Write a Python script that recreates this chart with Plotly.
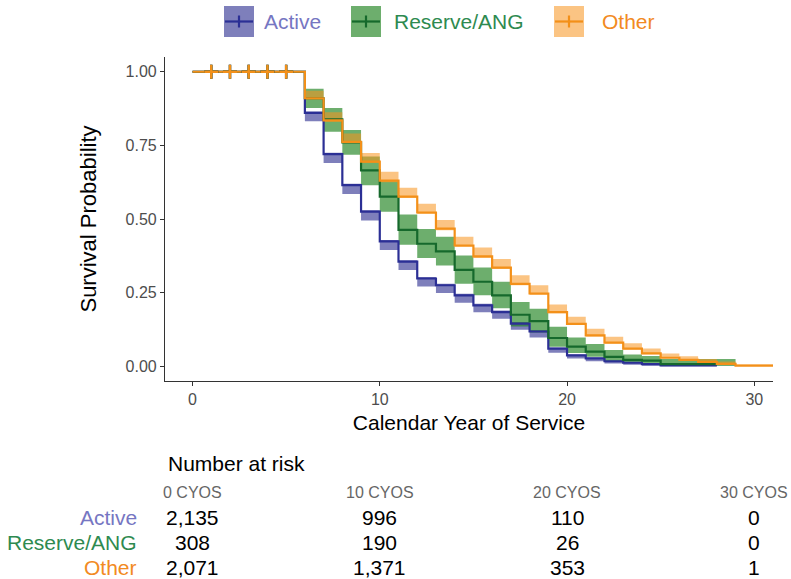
import plotly.graph_objects as go

W, H = 791, 579

# ---------------- data ----------------
groups = ["Active", "Reserve/ANG", "Other"]

time_active = [0, 6, 7, 8, 9, 10, 11, 12, 13, 14, 15, 16, 17, 18, 19, 20, 21, 22, 23, 24, 25, 28]
surv_active = [1.000, 0.860, 0.720, 0.615, 0.525, 0.424, 0.355, 0.298, 0.275, 0.241, 0.207, 0.184,
               0.145, 0.118, 0.060, 0.037, 0.027, 0.017, 0.012, 0.007, 0.003, 0.003]
lower_active = [1.000, 0.832, 0.690, 0.585, 0.495, 0.395, 0.327, 0.271, 0.249, 0.216, 0.183, 0.161,
                0.124, 0.098, 0.046, 0.026, 0.017, 0.009, 0.005, 0.002, 0.000, 0.000]
upper_active = [1.000, 0.865, 0.725, 0.620, 0.530, 0.429, 0.360, 0.303, 0.280, 0.246, 0.212, 0.189,
                0.150, 0.123, 0.064, 0.040, 0.030, 0.020, 0.015, 0.009, 0.005, 0.005]

time_reserve = [0, 6, 7, 8, 9, 10, 11, 12, 13, 14, 15, 16, 17, 18, 19, 20, 21, 22, 23, 24, 25, 29]
surv_reserve = [1.000, 0.910, 0.838, 0.760, 0.665, 0.576, 0.463, 0.416, 0.390, 0.327, 0.287, 0.241,
                0.175, 0.153, 0.096, 0.067, 0.050, 0.032, 0.022, 0.019, 0.007, 0.007]
lower_reserve = [1.000, 0.877, 0.796, 0.718, 0.615, 0.525, 0.413, 0.368, 0.342, 0.280, 0.241, 0.197,
                 0.135, 0.115, 0.066, 0.045, 0.032, 0.018, 0.011, 0.009, 0.002, 0.002]
upper_reserve = [1.000, 0.942, 0.877, 0.802, 0.712, 0.628, 0.515, 0.466, 0.440, 0.376, 0.335, 0.287,
                 0.218, 0.195, 0.134, 0.098, 0.076, 0.055, 0.040, 0.035, 0.025, 0.025]

time_other = [0, 6, 7, 8, 9, 10, 11, 12, 13, 14, 15, 16, 17, 18, 19, 20, 21, 22, 23, 24, 25, 26, 27, 28, 29, 31]
surv_other = [1.000, 0.910, 0.835, 0.762, 0.695, 0.630, 0.576, 0.522, 0.467, 0.410, 0.373, 0.335, 0.280,
              0.247, 0.184, 0.144, 0.105, 0.080, 0.060, 0.044, 0.029, 0.022, 0.015, 0.008, 0.002, 0.002]
lower_other = [1.000, 0.905, 0.830, 0.757, 0.690, 0.625, 0.571, 0.517, 0.462, 0.405, 0.368, 0.330, 0.275,
               0.242, 0.180, 0.140, 0.101, 0.077, 0.057, 0.041, 0.027, 0.020, 0.013, 0.006, 0.001, 0.001]
upper_other = [1.000, 0.935, 0.862, 0.790, 0.724, 0.660, 0.606, 0.552, 0.497, 0.440, 0.403, 0.364, 0.309,
               0.275, 0.210, 0.168, 0.127, 0.100, 0.078, 0.060, 0.043, 0.034, 0.025, 0.016, 0.006, 0.006]

censor_times = [1, 2, 3, 4, 5]
censor_surv = [1.0, 1.0, 1.0, 1.0, 1.0]

risk_times = [0, 10, 20, 30]
risk_headers = ["0 CYOS", "10 CYOS", "20 CYOS", "30 CYOS"]
risk_active = ["2,135", "996", "110", "0"]
risk_reserve = ["308", "190", "26", "0"]
risk_other = ["2,071", "1,371", "353", "1"]

x_ticks = [0, 10, 20, 30]
y_ticks = [0.0, 0.25, 0.5, 0.75, 1.0]
y_ticklabels = ["0.00", "0.25", "0.50", "0.75", "1.00"]

# ---------------- styles ----------------
line_col = {"Active": "#2B2F95", "Reserve/ANG": "#16692C", "Other": "#F39019"}
band_col = {"Active": "rgba(46,49,146,0.62)", "Reserve/ANG": "rgba(30,130,30,0.65)",
            "Other": "rgba(247,148,29,0.55)"}
text_col = {"Active": "#7676C2", "Reserve/ANG": "#2E8A50", "Other": "#F28A22"}

FONT = "Liberation Sans, Arial, sans-serif"

series = [
    ("Active", time_active, surv_active, lower_active, upper_active),
    ("Reserve/ANG", time_reserve, surv_reserve, lower_reserve, upper_reserve),
    ("Other", time_other, surv_other, lower_other, upper_other),
]

fig = go.Figure()

# confidence bands
for name, t, s, lo, hi in series:
    fig.add_trace(go.Scatter(x=t, y=lo, mode="lines", line=dict(width=0, shape="hv"),
                             showlegend=False, hoverinfo="skip"))
    fig.add_trace(go.Scatter(x=t, y=hi, mode="lines", line=dict(width=0, shape="hv"),
                             fill="tonexty", fillcolor=band_col[name],
                             showlegend=False, hoverinfo="skip"))

# survival curves
for name, t, s, lo, hi in series:
    fig.add_trace(go.Scatter(x=t, y=s, mode="lines", name=name,
                             line=dict(color=line_col[name], width=2.2, shape="hv"),
                             showlegend=False))

# censor marks
for name in groups:
    fig.add_trace(go.Scatter(x=censor_times, y=censor_surv, mode="markers",
                             marker=dict(symbol="cross-thin", size=10,
                                         line=dict(color=line_col[name], width=2.4)),
                             showlegend=False, hoverinfo="skip"))

# ---------------- layout ----------------
def fx(p):
    return p / W

def fy(p):
    return 1 - p / H

fig.update_layout(
    width=W, height=H,
    margin=dict(l=0, r=0, t=0, b=0),
    paper_bgcolor="white", plot_bgcolor="white",
    font=dict(family=FONT, size=21, color="black"),
    showlegend=False,
    xaxis=dict(domain=[fx(165), fx(773)], range=[-1.47, 31.0],
               tickvals=x_ticks, ticks="outside", ticklen=4, tickwidth=1, tickcolor="#333333",
               showline=True, linecolor="#333333", linewidth=1.2, showgrid=False, zeroline=False,
               tickfont=dict(family=FONT, size=16, color="#4D4D4D"),
               title=dict(text="Calendar Year of Service", standoff=8,
                          font=dict(family=FONT, size=21, color="black")),
               automargin=False),
    yaxis=dict(domain=[fy(381), fy(57)], range=[-0.05, 1.05],
               tickvals=y_ticks, ticktext=y_ticklabels, ticks="outside", ticklen=4, tickwidth=1,
               tickcolor="#333333",
               showline=True, linecolor="#333333", linewidth=1.2, showgrid=False, zeroline=False,
               tickfont=dict(family=FONT, size=16, color="#4D4D4D"),
               title=dict(text="Survival Probability", standoff=22,
                          font=dict(family=FONT, size=22, color="black")),
               automargin=False),
)

# ---------------- manual legend ----------------
legend_boxes = {"Active": (224, 262), "Reserve/ANG": (351, 392), "Other": (554, 600)}
box_top, box_bot = 6, 37
for name in groups:
    bx, tx = legend_boxes[name]
    fig.add_shape(type="rect", xref="paper", yref="paper",
                  x0=fx(bx), x1=fx(bx + 30), y0=fy(box_bot), y1=fy(box_top),
                  fillcolor=band_col[name], line=dict(width=0))
    cy = (box_top + box_bot) / 2
    fig.add_shape(type="line", xref="paper", yref="paper",
                  x0=fx(bx + 1), x1=fx(bx + 29), y0=fy(cy), y1=fy(cy),
                  line=dict(color=line_col[name], width=2.2))
    fig.add_shape(type="line", xref="paper", yref="paper",
                  x0=fx(bx + 15), x1=fx(bx + 15), y0=fy(cy - 6), y1=fy(cy + 6),
                  line=dict(color=line_col[name], width=2.2))
    fig.add_annotation(xref="paper", yref="paper", x=fx(tx), y=fy(cy), text=name,
                       showarrow=False, xanchor="left", yanchor="middle",
                       font=dict(family=FONT, size=21, color=text_col[name]))

# ---------------- risk table ----------------
fig.add_annotation(xref="paper", yref="paper", x=fx(166), y=fy(463), text="Number at risk",
                   showarrow=False, xanchor="left", yanchor="middle",
                   font=dict(family=FONT, size=21, color="black"))
for xv, hd in zip(risk_times, risk_headers):
    fig.add_annotation(xref="x", yref="paper", x=xv, y=fy(492), text=hd, showarrow=False,
                       xanchor="center", yanchor="middle",
                       font=dict(family=FONT, size=16, color="#666666"))

row_y = {"Active": 517, "Reserve/ANG": 542, "Other": 567}
row_vals = {"Active": risk_active, "Reserve/ANG": risk_reserve, "Other": risk_other}
for name in groups:
    fig.add_annotation(xref="paper", yref="paper", x=fx(139), y=fy(row_y[name]), text=name,
                       showarrow=False, xanchor="right", yanchor="middle",
                       font=dict(family=FONT, size=21, color=text_col[name]))
    for xv, v in zip(risk_times, row_vals[name]):
        fig.add_annotation(xref="x", yref="paper", x=xv, y=fy(row_y[name]), text=v,
                           showarrow=False, xanchor="center", yanchor="middle",
                           font=dict(family=FONT, size=21, color="black"))

fig.write_html("out.html")
